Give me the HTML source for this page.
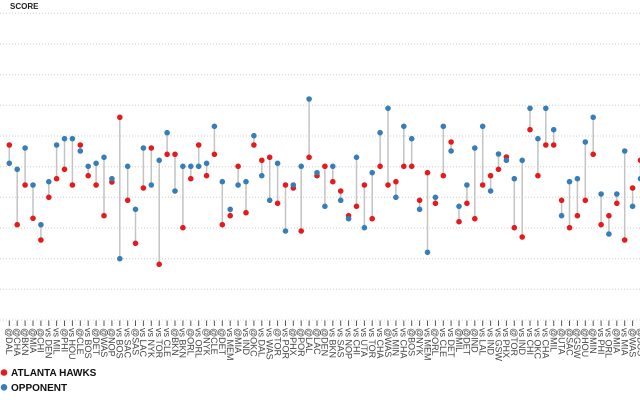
<!DOCTYPE html>
<html><head><meta charset="utf-8"><style>
html,body{margin:0;padding:0;background:#fff;}
svg{display:block;}
.lab{font-family:"Liberation Sans",sans-serif;font-size:9px;fill:#444;}
</style></head><body>
<svg width="640" height="400" viewBox="0 0 640 400" xmlns="http://www.w3.org/2000/svg">
<rect width="640" height="400" fill="#fff"/>
<g stroke="#cfcfcf" stroke-width="1" stroke-dasharray="1,2">
<line x1="0" x2="640" y1="13.3" y2="13.3"/>
<line x1="0" x2="640" y1="44" y2="44"/>
<line x1="0" x2="640" y1="74.7" y2="74.7"/>
<line x1="0" x2="640" y1="105.3" y2="105.3"/>
<line x1="0" x2="640" y1="136" y2="136"/>
<line x1="0" x2="640" y1="166.7" y2="166.7"/>
<line x1="0" x2="640" y1="197.3" y2="197.3"/>
<line x1="0" x2="640" y1="228" y2="228"/>
<line x1="0" x2="640" y1="258.7" y2="258.7"/>
<line x1="0" x2="640" y1="289.3" y2="289.3"/>
<line x1="0" x2="640" y1="320" y2="320"/>
</g>
<text x="10" y="9.2" font-family="Liberation Sans, sans-serif" font-size="8" font-weight="bold" fill="#222">SCORE</text>
<path fill="none" stroke="#c4c4c4" stroke-width="1.5" d="M9.3 145V163.3M17.2 224.7V169.3M25.1 185V148M33 218.3V185M40.9 240V224.7M48.8 197.3V181.7M56.6 178.7V145M64.5 169.3V138.7M72.4 185V138.7M80.3 145V151M88.2 175.7V166.3M96.1 185V163.3M104 215.7V157.3M111.9 182V178.7M119.8 117.3V258.7M127.7 200.3V166.3M135.5 243.3V209.3M143.4 188V148M151.3 148V185M159.2 264.3V160.3M167.1 154.3V132.7M175 154.3V191M182.9 227.7V166.3M190.8 178.7V166.3M198.7 145V166.3M206.6 175.7V163.3M214.4 154.3V126.3M222.3 224.7V181.7M230.2 215.7V209.3M238.1 166.3V185M246 212.7V181.7M253.9 145V135.7M261.8 160.3V175.7M269.7 157.3V200.3M277.6 203.3V163.3M285.5 185V231M293.3 188V185M301.2 231V166.3M309.1 157.3V99M317 175.7V172.7M324.9 166.3V206.3M332.8 181.7V166.3M340.7 191V200.3M348.6 215.7V218.7M356.5 206.3V157.3M364.4 185V227.7M372.2 218.7V172.7M380.1 166.3V132.7M388 185V108.3M395.9 181.7V197.3M403.8 166.3V126.3M411.7 166.3V138.7M419.6 200.3V209.3M427.5 172.7V252.3M435.4 203.3V197.3M443.3 175.7V126.3M451.1 142V151M459 221.7V206.3M466.9 203.3V185M474.8 218.7V148M482.7 185V126.3M490.6 175.7V191M498.5 169.3V154M506.4 157V160.3M514.3 227.7V178.7M522.2 237V160.3M530 129.7V108.3M537.9 175.7V138.7M545.8 145V108.3M553.7 145V129.7M561.6 200.3V215.7M569.5 227.7V181.7M577.4 215.7V178.7M585.3 200.3V142M593.2 154.3V117.3M601.1 224.7V194M608.9 215.7V234M616.8 203.3V194M624.7 240V151M632.6 188V206.3M640.5 160.3V178.7"/>
<g fill="#e41a1c">
<circle cx="9.3" cy="145" r="2.8"/><circle cx="17.2" cy="224.7" r="2.8"/><circle cx="25.1" cy="185" r="2.8"/><circle cx="33" cy="218.3" r="2.8"/><circle cx="40.9" cy="240" r="2.8"/><circle cx="48.8" cy="197.3" r="2.8"/><circle cx="56.6" cy="178.7" r="2.8"/><circle cx="64.5" cy="169.3" r="2.8"/><circle cx="72.4" cy="185" r="2.8"/><circle cx="80.3" cy="145" r="2.8"/>
<circle cx="88.2" cy="175.7" r="2.8"/><circle cx="96.1" cy="185" r="2.8"/><circle cx="104" cy="215.7" r="2.8"/><circle cx="111.9" cy="182" r="2.8"/><circle cx="119.8" cy="117.3" r="2.8"/><circle cx="127.7" cy="200.3" r="2.8"/><circle cx="135.5" cy="243.3" r="2.8"/><circle cx="143.4" cy="188" r="2.8"/><circle cx="151.3" cy="148" r="2.8"/><circle cx="159.2" cy="264.3" r="2.8"/>
<circle cx="167.1" cy="154.3" r="2.8"/><circle cx="175" cy="154.3" r="2.8"/><circle cx="182.9" cy="227.7" r="2.8"/><circle cx="190.8" cy="178.7" r="2.8"/><circle cx="198.7" cy="145" r="2.8"/><circle cx="206.6" cy="175.7" r="2.8"/><circle cx="214.4" cy="154.3" r="2.8"/><circle cx="222.3" cy="224.7" r="2.8"/><circle cx="230.2" cy="215.7" r="2.8"/><circle cx="238.1" cy="166.3" r="2.8"/>
<circle cx="246" cy="212.7" r="2.8"/><circle cx="253.9" cy="145" r="2.8"/><circle cx="261.8" cy="160.3" r="2.8"/><circle cx="269.7" cy="157.3" r="2.8"/><circle cx="277.6" cy="203.3" r="2.8"/><circle cx="285.5" cy="185" r="2.8"/><circle cx="293.3" cy="188" r="2.8"/><circle cx="301.2" cy="231" r="2.8"/><circle cx="309.1" cy="157.3" r="2.8"/><circle cx="317" cy="175.7" r="2.8"/>
<circle cx="324.9" cy="166.3" r="2.8"/><circle cx="332.8" cy="181.7" r="2.8"/><circle cx="340.7" cy="191" r="2.8"/><circle cx="348.6" cy="215.7" r="2.8"/><circle cx="356.5" cy="206.3" r="2.8"/><circle cx="364.4" cy="185" r="2.8"/><circle cx="372.2" cy="218.7" r="2.8"/><circle cx="380.1" cy="166.3" r="2.8"/><circle cx="388" cy="185" r="2.8"/><circle cx="395.9" cy="181.7" r="2.8"/>
<circle cx="403.8" cy="166.3" r="2.8"/><circle cx="411.7" cy="166.3" r="2.8"/><circle cx="419.6" cy="200.3" r="2.8"/><circle cx="427.5" cy="172.7" r="2.8"/><circle cx="435.4" cy="203.3" r="2.8"/><circle cx="443.3" cy="175.7" r="2.8"/><circle cx="451.1" cy="142" r="2.8"/><circle cx="459" cy="221.7" r="2.8"/><circle cx="466.9" cy="203.3" r="2.8"/><circle cx="474.8" cy="218.7" r="2.8"/>
<circle cx="482.7" cy="185" r="2.8"/><circle cx="490.6" cy="175.7" r="2.8"/><circle cx="498.5" cy="169.3" r="2.8"/><circle cx="506.4" cy="157" r="2.8"/><circle cx="514.3" cy="227.7" r="2.8"/><circle cx="522.2" cy="237" r="2.8"/><circle cx="530" cy="129.7" r="2.8"/><circle cx="537.9" cy="175.7" r="2.8"/><circle cx="545.8" cy="145" r="2.8"/><circle cx="553.7" cy="145" r="2.8"/>
<circle cx="561.6" cy="200.3" r="2.8"/><circle cx="569.5" cy="227.7" r="2.8"/><circle cx="577.4" cy="215.7" r="2.8"/><circle cx="585.3" cy="200.3" r="2.8"/><circle cx="593.2" cy="154.3" r="2.8"/><circle cx="601.1" cy="224.7" r="2.8"/><circle cx="608.9" cy="215.7" r="2.8"/><circle cx="616.8" cy="203.3" r="2.8"/><circle cx="624.7" cy="240" r="2.8"/><circle cx="632.6" cy="188" r="2.8"/>
<circle cx="640.5" cy="160.3" r="2.8"/>
</g>
<g fill="#377eb8">
<circle cx="9.3" cy="163.3" r="2.8"/><circle cx="17.2" cy="169.3" r="2.8"/><circle cx="25.1" cy="148" r="2.8"/><circle cx="33" cy="185" r="2.8"/><circle cx="40.9" cy="224.7" r="2.8"/><circle cx="48.8" cy="181.7" r="2.8"/><circle cx="56.6" cy="145" r="2.8"/><circle cx="64.5" cy="138.7" r="2.8"/><circle cx="72.4" cy="138.7" r="2.8"/><circle cx="80.3" cy="151" r="2.8"/>
<circle cx="88.2" cy="166.3" r="2.8"/><circle cx="96.1" cy="163.3" r="2.8"/><circle cx="104" cy="157.3" r="2.8"/><circle cx="111.9" cy="178.7" r="2.8"/><circle cx="119.8" cy="258.7" r="2.8"/><circle cx="127.7" cy="166.3" r="2.8"/><circle cx="135.5" cy="209.3" r="2.8"/><circle cx="143.4" cy="148" r="2.8"/><circle cx="151.3" cy="185" r="2.8"/><circle cx="159.2" cy="160.3" r="2.8"/>
<circle cx="167.1" cy="132.7" r="2.8"/><circle cx="175" cy="191" r="2.8"/><circle cx="182.9" cy="166.3" r="2.8"/><circle cx="190.8" cy="166.3" r="2.8"/><circle cx="198.7" cy="166.3" r="2.8"/><circle cx="206.6" cy="163.3" r="2.8"/><circle cx="214.4" cy="126.3" r="2.8"/><circle cx="222.3" cy="181.7" r="2.8"/><circle cx="230.2" cy="209.3" r="2.8"/><circle cx="238.1" cy="185" r="2.8"/>
<circle cx="246" cy="181.7" r="2.8"/><circle cx="253.9" cy="135.7" r="2.8"/><circle cx="261.8" cy="175.7" r="2.8"/><circle cx="269.7" cy="200.3" r="2.8"/><circle cx="277.6" cy="163.3" r="2.8"/><circle cx="285.5" cy="231" r="2.8"/><circle cx="293.3" cy="185" r="2.8"/><circle cx="301.2" cy="166.3" r="2.8"/><circle cx="309.1" cy="99" r="2.8"/><circle cx="317" cy="172.7" r="2.8"/>
<circle cx="324.9" cy="206.3" r="2.8"/><circle cx="332.8" cy="166.3" r="2.8"/><circle cx="340.7" cy="200.3" r="2.8"/><circle cx="348.6" cy="218.7" r="2.8"/><circle cx="356.5" cy="157.3" r="2.8"/><circle cx="364.4" cy="227.7" r="2.8"/><circle cx="372.2" cy="172.7" r="2.8"/><circle cx="380.1" cy="132.7" r="2.8"/><circle cx="388" cy="108.3" r="2.8"/><circle cx="395.9" cy="197.3" r="2.8"/>
<circle cx="403.8" cy="126.3" r="2.8"/><circle cx="411.7" cy="138.7" r="2.8"/><circle cx="419.6" cy="209.3" r="2.8"/><circle cx="427.5" cy="252.3" r="2.8"/><circle cx="435.4" cy="197.3" r="2.8"/><circle cx="443.3" cy="126.3" r="2.8"/><circle cx="451.1" cy="151" r="2.8"/><circle cx="459" cy="206.3" r="2.8"/><circle cx="466.9" cy="185" r="2.8"/><circle cx="474.8" cy="148" r="2.8"/>
<circle cx="482.7" cy="126.3" r="2.8"/><circle cx="490.6" cy="191" r="2.8"/><circle cx="498.5" cy="154" r="2.8"/><circle cx="506.4" cy="160.3" r="2.8"/><circle cx="514.3" cy="178.7" r="2.8"/><circle cx="522.2" cy="160.3" r="2.8"/><circle cx="530" cy="108.3" r="2.8"/><circle cx="537.9" cy="138.7" r="2.8"/><circle cx="545.8" cy="108.3" r="2.8"/><circle cx="553.7" cy="129.7" r="2.8"/>
<circle cx="561.6" cy="215.7" r="2.8"/><circle cx="569.5" cy="181.7" r="2.8"/><circle cx="577.4" cy="178.7" r="2.8"/><circle cx="585.3" cy="142" r="2.8"/><circle cx="593.2" cy="117.3" r="2.8"/><circle cx="601.1" cy="194" r="2.8"/><circle cx="608.9" cy="234" r="2.8"/><circle cx="616.8" cy="194" r="2.8"/><circle cx="624.7" cy="151" r="2.8"/><circle cx="632.6" cy="206.3" r="2.8"/>
<circle cx="640.5" cy="178.7" r="2.8"/>
</g>
<path fill="none" stroke="#555" stroke-width="1" d="M9.3 320.5V326M17.2 320.5V326M25.1 320.5V326M33 320.5V326M40.9 320.5V326M48.8 320.5V326M56.6 320.5V326M64.5 320.5V326M72.4 320.5V326M80.3 320.5V326M88.2 320.5V326M96.1 320.5V326M104 320.5V326M111.9 320.5V326M119.8 320.5V326M127.7 320.5V326M135.5 320.5V326M143.4 320.5V326M151.3 320.5V326M159.2 320.5V326M167.1 320.5V326M175 320.5V326M182.9 320.5V326M190.8 320.5V326M198.7 320.5V326M206.6 320.5V326M214.4 320.5V326M222.3 320.5V326M230.2 320.5V326M238.1 320.5V326M246 320.5V326M253.9 320.5V326M261.8 320.5V326M269.7 320.5V326M277.6 320.5V326M285.5 320.5V326M293.3 320.5V326M301.2 320.5V326M309.1 320.5V326M317 320.5V326M324.9 320.5V326M332.8 320.5V326M340.7 320.5V326M348.6 320.5V326M356.5 320.5V326M364.4 320.5V326M372.2 320.5V326M380.1 320.5V326M388 320.5V326M395.9 320.5V326M403.8 320.5V326M411.7 320.5V326M419.6 320.5V326M427.5 320.5V326M435.4 320.5V326M443.3 320.5V326M451.1 320.5V326M459 320.5V326M466.9 320.5V326M474.8 320.5V326M482.7 320.5V326M490.6 320.5V326M498.5 320.5V326M506.4 320.5V326M514.3 320.5V326M522.2 320.5V326M530 320.5V326M537.9 320.5V326M545.8 320.5V326M553.7 320.5V326M561.6 320.5V326M569.5 320.5V326M577.4 320.5V326M585.3 320.5V326M593.2 320.5V326M601.1 320.5V326M608.9 320.5V326M616.8 320.5V326M624.7 320.5V326M632.6 320.5V326M640.5 320.5V326"/>
<g class="lab">
<text transform="translate(9.3,328) rotate(90)" dy="0.35em">@DAL</text>
<text transform="translate(17.2,328) rotate(90)" dy="0.35em">@CHA</text>
<text transform="translate(25.1,328) rotate(90)" dy="0.35em">@BKN</text>
<text transform="translate(33,328) rotate(90)" dy="0.35em">@MIA</text>
<text transform="translate(40.9,328) rotate(90)" dy="0.35em">@CHI</text>
<text transform="translate(48.8,328) rotate(90)" dy="0.35em">vs DEN</text>
<text transform="translate(56.6,328) rotate(90)" dy="0.35em">vs MIL</text>
<text transform="translate(64.5,328) rotate(90)" dy="0.35em">@PHI</text>
<text transform="translate(72.4,328) rotate(90)" dy="0.35em">vs HOU</text>
<text transform="translate(80.3,328) rotate(90)" dy="0.35em">@CLE</text>
<text transform="translate(88.2,328) rotate(90)" dy="0.35em">vs BOS</text>
<text transform="translate(96.1,328) rotate(90)" dy="0.35em">@DET</text>
<text transform="translate(104,328) rotate(90)" dy="0.35em">@WAS</text>
<text transform="translate(111.9,328) rotate(90)" dy="0.35em">@NOP</text>
<text transform="translate(119.8,328) rotate(90)" dy="0.35em">vs BOS</text>
<text transform="translate(127.7,328) rotate(90)" dy="0.35em">vs SAC</text>
<text transform="translate(135.5,328) rotate(90)" dy="0.35em">@SAS</text>
<text transform="translate(143.4,328) rotate(90)" dy="0.35em">vs LAC</text>
<text transform="translate(151.3,328) rotate(90)" dy="0.35em">vs NYK</text>
<text transform="translate(159.2,328) rotate(90)" dy="0.35em">vs TOR</text>
<text transform="translate(167.1,328) rotate(90)" dy="0.35em">vs CLE</text>
<text transform="translate(175,328) rotate(90)" dy="0.35em">@BKN</text>
<text transform="translate(182.9,328) rotate(90)" dy="0.35em">vs BKN</text>
<text transform="translate(190.8,328) rotate(90)" dy="0.35em">@ORL</text>
<text transform="translate(198.7,328) rotate(90)" dy="0.35em">vs ORL</text>
<text transform="translate(206.6,328) rotate(90)" dy="0.35em">@NYK</text>
<text transform="translate(214.4,328) rotate(90)" dy="0.35em">@CLE</text>
<text transform="translate(222.3,328) rotate(90)" dy="0.35em">@DET</text>
<text transform="translate(230.2,328) rotate(90)" dy="0.35em">vs MEM</text>
<text transform="translate(238.1,328) rotate(90)" dy="0.35em">@MIA</text>
<text transform="translate(246,328) rotate(90)" dy="0.35em">vs IND</text>
<text transform="translate(253.9,328) rotate(90)" dy="0.35em">@OKC</text>
<text transform="translate(261.8,328) rotate(90)" dy="0.35em">vs DAL</text>
<text transform="translate(269.7,328) rotate(90)" dy="0.35em">vs WAS</text>
<text transform="translate(277.6,328) rotate(90)" dy="0.35em">@TOR</text>
<text transform="translate(285.5,328) rotate(90)" dy="0.35em">vs POR</text>
<text transform="translate(293.3,328) rotate(90)" dy="0.35em">@PHX</text>
<text transform="translate(301.2,328) rotate(90)" dy="0.35em">@POR</text>
<text transform="translate(309.1,328) rotate(90)" dy="0.35em">@LAL</text>
<text transform="translate(317,328) rotate(90)" dy="0.35em">@LAC</text>
<text transform="translate(324.9,328) rotate(90)" dy="0.35em">@DEN</text>
<text transform="translate(332.8,328) rotate(90)" dy="0.35em">vs BKN</text>
<text transform="translate(340.7,328) rotate(90)" dy="0.35em">vs SAS</text>
<text transform="translate(348.6,328) rotate(90)" dy="0.35em">vs NOP</text>
<text transform="translate(356.5,328) rotate(90)" dy="0.35em">vs CHI</text>
<text transform="translate(364.4,328) rotate(90)" dy="0.35em">vs UTA</text>
<text transform="translate(372.2,328) rotate(90)" dy="0.35em">vs TOR</text>
<text transform="translate(380.1,328) rotate(90)" dy="0.35em">vs CHA</text>
<text transform="translate(388,328) rotate(90)" dy="0.35em">@WAS</text>
<text transform="translate(395.9,328) rotate(90)" dy="0.35em">vs MIN</text>
<text transform="translate(403.8,328) rotate(90)" dy="0.35em">vs CHA</text>
<text transform="translate(411.7,328) rotate(90)" dy="0.35em">@BOS</text>
<text transform="translate(419.6,328) rotate(90)" dy="0.35em">@NYK</text>
<text transform="translate(427.5,328) rotate(90)" dy="0.35em">vs MEM</text>
<text transform="translate(435.4,328) rotate(90)" dy="0.35em">@ORL</text>
<text transform="translate(443.3,328) rotate(90)" dy="0.35em">vs CLE</text>
<text transform="translate(451.1,328) rotate(90)" dy="0.35em">vs DET</text>
<text transform="translate(459,328) rotate(90)" dy="0.35em">@MIL</text>
<text transform="translate(466.9,328) rotate(90)" dy="0.35em">@DET</text>
<text transform="translate(474.8,328) rotate(90)" dy="0.35em">@IND</text>
<text transform="translate(482.7,328) rotate(90)" dy="0.35em">vs LAL</text>
<text transform="translate(490.6,328) rotate(90)" dy="0.35em">vs IND</text>
<text transform="translate(498.5,328) rotate(90)" dy="0.35em">vs GSW</text>
<text transform="translate(506.4,328) rotate(90)" dy="0.35em">vs PHX</text>
<text transform="translate(514.3,328) rotate(90)" dy="0.35em">@TOR</text>
<text transform="translate(522.2,328) rotate(90)" dy="0.35em">vs IND</text>
<text transform="translate(530,328) rotate(90)" dy="0.35em">vs CHI</text>
<text transform="translate(537.9,328) rotate(90)" dy="0.35em">vs OKC</text>
<text transform="translate(545.8,328) rotate(90)" dy="0.35em">vs CHA</text>
<text transform="translate(553.7,328) rotate(90)" dy="0.35em">@MIL</text>
<text transform="translate(561.6,328) rotate(90)" dy="0.35em">@UTA</text>
<text transform="translate(569.5,328) rotate(90)" dy="0.35em">@SAC</text>
<text transform="translate(577.4,328) rotate(90)" dy="0.35em">@GSW</text>
<text transform="translate(585.3,328) rotate(90)" dy="0.35em">@HOU</text>
<text transform="translate(593.2,328) rotate(90)" dy="0.35em">@MIN</text>
<text transform="translate(601.1,328) rotate(90)" dy="0.35em">vs PHI</text>
<text transform="translate(608.9,328) rotate(90)" dy="0.35em">vs ORL</text>
<text transform="translate(616.8,328) rotate(90)" dy="0.35em">@MIA</text>
<text transform="translate(624.7,328) rotate(90)" dy="0.35em">vs MIA</text>
<text transform="translate(632.6,328) rotate(90)" dy="0.35em">@WAS</text>
<text transform="translate(640.5,328) rotate(90)" dy="0.35em">@BOS</text>
</g>
<circle cx="4" cy="372.5" r="3.3" fill="#e41a1c"/>
<text x="11" y="376" font-family="Liberation Sans, sans-serif" font-size="10" font-weight="bold" fill="#111">ATLANTA HAWKS</text>
<circle cx="4" cy="387.3" r="3.3" fill="#377eb8"/>
<text x="11" y="390.8" font-family="Liberation Sans, sans-serif" font-size="10" font-weight="bold" fill="#111">OPPONENT</text>
</svg>
</body></html>
